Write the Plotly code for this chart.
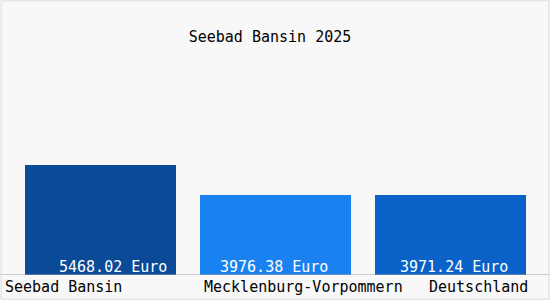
import plotly.graph_objects as go

categories = ["Seebad Bansin", "Mecklenburg-Vorpommern", "Deutschland"]
values = [5468.02, 3976.38, 3971.24]
value_labels = ["5468.02 Euro", "3976.38 Euro", "3971.24 Euro"]
bar_colors = ["#0a4a96", "#1a82f0", "#0a62c8"]
title_text = "Seebad Bansin 2025"

FONT = "DejaVu Sans Mono"
x_idx = list(range(len(categories)))

fig = go.Figure()
fig.add_trace(go.Bar(
    x=x_idx, y=values, width=0.863,
    marker=dict(color=bar_colors, line=dict(width=0)),
    hoverinfo="skip", showlegend=False,
))

ymax = 275 / (110 / values[0])

annotations = []
val_shift = [12.5, -2, 3]
for i, t in enumerate(value_labels):
    annotations.append(dict(x=i, y=0, xref="x", yref="y", text=t, showarrow=False,
                            xanchor="center", yanchor="middle", xshift=val_shift[i], yshift=8,
                            font=dict(family=FONT, size=15, color="white")))
cat_shift = [-37.5, 28, 27.5]
for i, c in enumerate(categories):
    annotations.append(dict(x=i, y=0, xref="x", yref="y", text=c, showarrow=False,
                            xanchor="center", yanchor="middle", xshift=cat_shift[i], yshift=-12,
                            font=dict(family=FONT, size=15, color="black")))

fig.update_layout(
    width=550, height=300,
    margin=dict(l=0, r=0, t=0, b=25),
    paper_bgcolor="#f8f8f8", plot_bgcolor="#f8f8f8",
    title=dict(text=title_text, x=270/550, xanchor="center", y=1-37/300, yanchor="middle",
               font=dict(family=FONT, size=15, color="black")),
    xaxis=dict(range=[-100.5/175, -100.5/175 + 550/175], visible=False, fixedrange=True),
    yaxis=dict(range=[0, ymax], visible=False, fixedrange=True),
    annotations=annotations,
    shapes=[
        dict(type="line", xref="paper", yref="y", x0=0, x1=1, y0=0, y1=0,
             line=dict(color="#a0a0a0", width=1)),
        dict(type="rect", xref="paper", yref="paper", x0=0.002, x1=0.998, y0=-25/275+0.003, y1=0.997,
             line=dict(color="#dcdcdc", width=1)),
    ],
    bargap=0,
)

fig.write_html("out.html", config={"displayModeBar": False})
